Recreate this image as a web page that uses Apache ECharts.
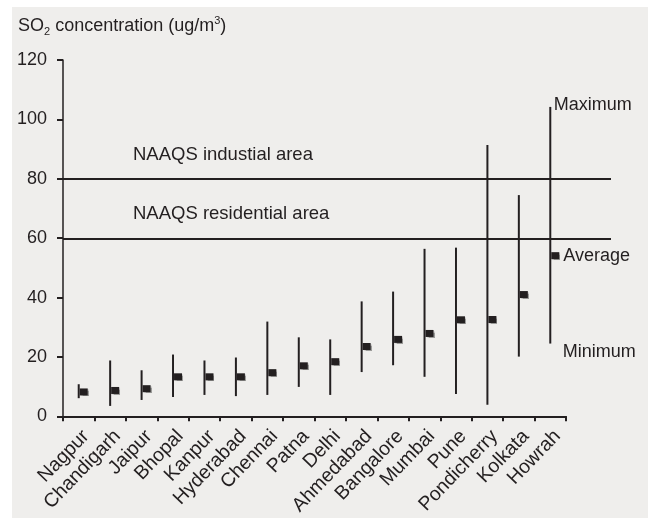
<!DOCTYPE html>
<html>
<head>
<meta charset="utf-8">
<script src="https://cdn.jsdelivr.net/npm/echarts@6/dist/echarts.min.js"></script>
<style>
  html, body { margin: 0; padding: 0; background: #ffffff; }
  #chart { position: absolute; left: 12px; top: 7px; width: 636px; height: 511px; }
</style>
</head>
<body>
<div id="chart"></div>
<script>
// Cities sampled
const cities = ['Nagpur', 'Chandigarh', 'Jaipur', 'Bhopal', 'Kanpur', 'Hyderabad', 'Chennai', 'Patna',
  'Delhi', 'Ahmedabad', 'Bangalore', 'Mumbai', 'Pune', 'Pondicherry', 'Kolkata', 'Howrah'];
// SO2 concentration, ug/m3
const maxVals = [10.8, 18.8, 15.5, 20.8, 18.8, 19.8, 31.9, 26.6, 25.9, 38.7, 42.0, 56.4, 56.8, 91.4, 74.5, 104.2];
const minVals = [6.1, 3.5, 5.5, 6.5, 7.2, 6.8, 7.2, 9.9, 7.2, 14.9, 17.2, 13.3, 7.5, 3.9, 20.1, 24.5];
const avgVals = [8.2, 8.7, 9.3, 13.3, 13.3, 13.3, 14.7, 17.0, 18.4, 23.5, 25.9, 27.9, 32.5, 32.6, 41.0, 54.1];
// Air quality standard limits
const standardLevels = [80, 60];
const standardNames = ['NAAQS industial area', 'NAAQS residential area'];
// Value axis ticks
const yTicks = [0, 20, 40, 60, 80, 100, 120];

const ink = '#231f20';
const font = "'Liberation Sans', Arial, sans-serif";
const last = cities.length - 1;

const chart = echarts.init(document.getElementById('chart'));

const yAxisBase = {
  type: 'value',
  min: yTicks[0],
  max: yTicks[yTicks.length - 1],
  interval: yTicks[1] - yTicks[0]
};

chart.setOption({
  backgroundColor: '#efeeec',
  animation: false,
  textStyle: { fontFamily: font },
  title: {
    left: 6,
    top: 8,
    padding: 0,
    text: 'SO{sub|2} concentration (ug/m{sup|3})',
    textStyle: {
      fontFamily: font,
      fontSize: 18,
      fontWeight: 'normal',
      color: ink,
      lineHeight: 22,
      rich: {
        sub: { fontSize: 11, fontFamily: font, color: ink, verticalAlign: 'bottom', lineHeight: 11 },
        sup: { fontSize: 11, fontFamily: font, color: ink, verticalAlign: 'top', lineHeight: 11 }
      }
    }
  },
  grid: [
    // category plot area
    { left: 51, right: 82, top: 53, bottom: 101 },
    // wider area for the standard limit lines
    { left: 51, right: 37, top: 53, bottom: 101 }
  ],
  xAxis: [
    {
      type: 'category',
      gridIndex: 0,
      data: cities,
      boundaryGap: true,
      axisLine: { lineStyle: { color: ink, width: 2 } },
      axisTick: { show: true, length: 5, alignWithLabel: false, lineStyle: { color: ink, width: 2 } },
      axisLabel: {
        interval: 0,
        rotate: 46,
        margin: 10,
        align: 'right',
        verticalAlign: 'top',
        fontSize: 19.5,
        fontFamily: font,
        color: ink
      }
    },
    { type: 'value', gridIndex: 1, min: 0, max: 1, show: false }
  ],
  yAxis: [
    Object.assign({}, yAxisBase, {
      gridIndex: 0,
      axisLine: { show: true, lineStyle: { color: ink, width: 1.5 } },
      axisTick: { show: true, length: 6, lineStyle: { color: ink, width: 2 } },
      splitLine: { show: false },
      axisLabel: { margin: 16, fontSize: 18, fontFamily: font, color: ink }
    }),
    Object.assign({}, yAxisBase, { gridIndex: 1, show: false })
  ],
  series: [
    {
      // minimum-to-maximum range of each city
      type: 'custom',
      xAxisIndex: 0,
      yAxisIndex: 0,
      data: cities.map((c, i) => [i, minVals[i], maxVals[i]]),
      encode: { x: 0, y: [1, 2] },
      renderItem: function (params, api) {
        const lo = api.coord([api.value(0), api.value(1)]);
        const hi = api.coord([api.value(0), api.value(2)]);
        return {
          type: 'line',
          shape: { x1: lo[0], y1: lo[1], x2: hi[0], y2: hi[1] },
          style: { stroke: ink, lineWidth: 2 }
        };
      }
    },
    {
      // average marker
      type: 'scatter',
      xAxisIndex: 0,
      yAxisIndex: 0,
      symbol: 'rect',
      symbolSize: [8, 7],
      symbolOffset: [5, 0],
      itemStyle: {
        color: ink,
        opacity: 1,
        shadowColor: 'rgba(0,0,0,0.35)',
        shadowOffsetX: 1,
        shadowOffsetY: 1,
        shadowBlur: 1
      },
      data: avgVals.map((v, i) => i === last
        ? { value: [i, v], label: { show: true, formatter: 'Average', position: 'right', distance: 4 } }
        : [i, v]),
      label: { show: false, fontSize: 18, fontFamily: font, color: ink }
    },
    {
      // extreme labels
      type: 'scatter',
      xAxisIndex: 0,
      yAxisIndex: 0,
      symbol: 'circle',
      symbolSize: 1,
      itemStyle: { color: 'rgba(0,0,0,0)', opacity: 1 },
      silent: true,
      data: [
        { value: [last, maxVals[last]], label: { formatter: 'Maximum', distance: 3, offset: [0, -2] } },
        { value: [last, minVals[last]], label: { formatter: 'Minimum', distance: 12, offset: [0, 8] } }
      ],
      label: { show: true, position: 'right', fontSize: 18, fontFamily: font, color: ink }
    },
    {
      // standard limit lines
      type: 'line',
      xAxisIndex: 1,
      yAxisIndex: 1,
      data: [],
      markLine: {
        silent: true,
        symbol: ['none', 'none'],
        lineStyle: { color: ink, width: 2, type: 'solid' },
        label: {
          show: true,
          position: 'insideStartTop',
          distance: [70, 15],
          formatter: '{b}',
          fontSize: 18.5,
          fontFamily: font,
          color: ink
        },
        data: standardLevels.map((v, i) => ({ yAxis: v, name: standardNames[i] }))
      }
    }
  ]
});
</script>
</body>
</html>
